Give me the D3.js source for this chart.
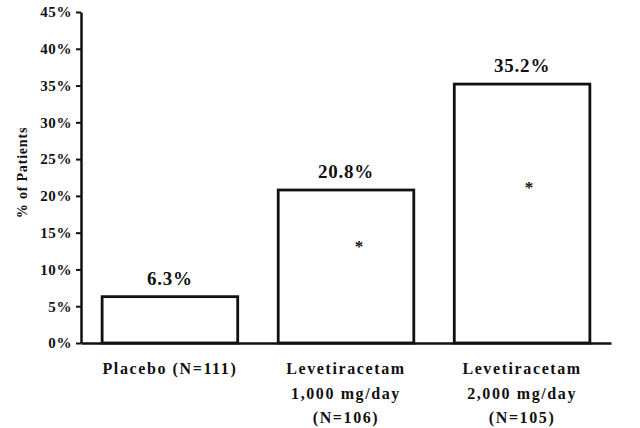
<!DOCTYPE html>
<html>
<head>
<meta charset="utf-8">
<script src="https://cdn.jsdelivr.net/npm/d3@7"></script>
<style>
  html, body { margin: 0; padding: 0; background: #fff; }
  svg { display: block; }
  text { font-family: "Liberation Serif", "Times New Roman", serif; font-weight: bold; fill: #111; }
</style>
</head>
<body>
<svg id="chart" width="640" height="428"></svg>
<script>
// ---- data ----
const categories = ["Placebo", "Lev1000", "Lev2000"];
const categoryLines = [
  ["Placebo (N=111)"],
  ["Levetiracetam", "1,000 mg/day", "(N=106)"],
  ["Levetiracetam", "2,000 mg/day", "(N=105)"]
];
const values = [6.3, 20.8, 35.2];
const valueLabels = ["6.3%", "20.8%", "35.2%"];
const significant = [false, true, true];
const starLevels = [null, 13.5, 21.5];
const yTicks = [0, 5, 10, 15, 20, 25, 30, 35, 40, 45];
const yTitle = "% of Patients";

// ---- layout ----
const svg = d3.select("#chart");
const mLeft = 81, mRight = 611, mTop = 12, mBottom = 343;

const x = d3.scaleBand().domain(categories).range([mLeft, mRight])
  .paddingInner(0.23).paddingOuter(0.12);
const y = d3.scaleLinear().domain([0, 45]).range([mBottom, mTop]);

// bars
svg.append("g").selectAll("rect").data(categories).join("rect")
  .attr("x", d => x(d))
  .attr("y", (d, i) => y(values[i]))
  .attr("width", x.bandwidth())
  .attr("height", (d, i) => y(0) - y(values[i]))
  .attr("fill", "#fff")
  .attr("stroke", "#111")
  .attr("stroke-width", 2.8);

// value labels
svg.append("g").selectAll("text").data(categories).join("text")
  .attr("x", d => x(d) + x.bandwidth() / 2)
  .attr("y", (d, i) => y(values[i]) - 12)
  .attr("text-anchor", "middle")
  .style("font-size", "19px")
  .style("letter-spacing", "0.8px")
  .text((d, i) => valueLabels[i]);

// significance asterisks
const starOffsets = [0, 13, 7];
svg.append("g").selectAll("text")
  .data(categories.filter((d, i) => significant[i]))
  .join("text")
  .attr("x", d => x(d) + x.bandwidth() / 2 + starOffsets[categories.indexOf(d)])
  .attr("y", d => y(starLevels[categories.indexOf(d)]) + 8)
  .attr("text-anchor", "middle")
  .style("font-size", "17px")
  .text("*");

// y axis
const yAxis = svg.append("g")
  .attr("transform", `translate(${mLeft},0)`)
  .call(d3.axisLeft(y).tickValues(yTicks).tickFormat(d => d + "%").tickSize(5).tickSizeOuter(0).tickPadding(4));
yAxis.select(".domain").attr("stroke", "#111").attr("stroke-width", 2.5);
yAxis.selectAll(".tick line").attr("stroke", "#111").attr("stroke-width", 2);
yAxis.selectAll(".tick text")
  .style("font-family", '"Liberation Serif", "Times New Roman", serif')
  .style("font-weight", "bold")
  .style("font-size", "15px")
  .style("letter-spacing", "0.6px")
  .attr("fill", "#111");

// x axis (baseline) with multi-line labels
const xAxis = svg.append("g")
  .attr("transform", `translate(0,${mBottom})`)
  .call(d3.axisBottom(x).tickSize(0).tickSizeOuter(0).tickFormat(""));
xAxis.select(".domain").attr("stroke", "#111").attr("stroke-width", 2.5);
xAxis.selectAll(".tick").each(function (d) {
  const i = categories.indexOf(d);
  const t = d3.select(this).select("text")
    .attr("y", 0).attr("dy", null)
    .attr("fill", "#111")
    .style("font-family", '"Liberation Serif", "Times New Roman", serif')
    .style("font-weight", "bold")
    .style("font-size", "16px")
    .style("letter-spacing", "1.6px")
    .attr("text-anchor", "middle");
  categoryLines[i].forEach((line, k) => {
    t.append("tspan").attr("x", 0).attr("y", 31 + k * 24.5).text(line);
  });
});

// y title
svg.append("text")
  .attr("transform", `translate(27,${(mTop + mBottom) / 2 - 5}) rotate(-90)`)
  .attr("text-anchor", "middle")
  .style("font-size", "14px")
  .style("letter-spacing", "0.8px")
  .text(yTitle);
</script>
</body>
</html>
